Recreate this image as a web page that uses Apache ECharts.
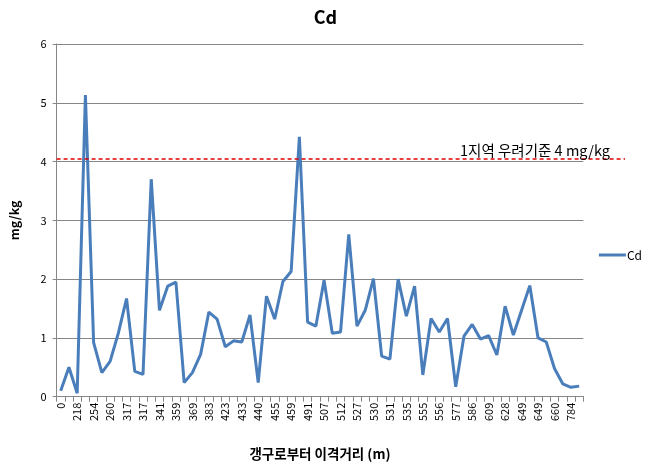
<!DOCTYPE html>
<html><head><meta charset="utf-8">
<script src="https://cdn.jsdelivr.net/npm/echarts@6/dist/echarts.min.js"></script>
<style>html,body{margin:0;padding:0;background:#fff}#c{width:651px;height:468px}</style>
</head><body><div id="c"></div>
<script>
const categories = ['0','200','218','250','254','258','260','300','317','317','317','330','341','350','359','365','369','380','383','400','423','430','433','435','440','450','455','457','459','489','491','500','507','510','512','520','527','529','530','531','531','533','535','550','555','556','556','570','577','580','586','600','609','620','628','640','649','649','649','655','660','700','784','800'];
const cdValues = [0.10,0.50,0.06,5.13,0.92,0.41,0.60,1.08,1.67,0.43,0.38,3.70,1.47,1.88,1.95,0.24,0.41,0.72,1.44,1.32,0.85,0.95,0.93,1.39,0.24,1.71,1.32,1.96,2.13,4.42,1.27,1.20,1.98,1.08,1.10,2.76,1.20,1.47,2.01,0.69,0.64,2.00,1.37,1.88,0.37,1.33,1.10,1.33,0.17,1.03,1.23,0.98,1.04,0.71,1.54,1.05,1.47,1.89,1.00,0.93,0.48,0.22,0.16,0.18];
const yTicks = [0,1,2,3,4,5,6];
const limitValue = 4.04;
const limitLabel = '1지역 우려기준 4 mg/kg';

const FONT = '"Noto Sans CJK KR", "Noto Sans", sans-serif';
const chart = echarts.init(document.getElementById('c'), null, {renderer:'canvas'});
const option = {
  animation:false,
  backgroundColor:'#fff',
  title:{text:'Cd', left:'center', top:3, textStyle:{fontFamily:FONT, fontSize:18, fontWeight:'bold', color:'#000'}},
  grid:{left:56.6, right:67.7, top:44, bottom:71.3, containLabel:false},
  legend:{right:4, top:244, orient:'vertical', itemWidth:27, itemHeight:3, itemGap:4, icon:'rect',
    textStyle:{fontFamily:FONT, fontSize:12, color:'#000', padding:[0,0,0,-4]}, data:['Cd']},
  xAxis:{type:'category', data:categories, boundaryGap:true,
    name:'갱구로부터 이격거리 (m)', nameLocation:'middle', nameGap:50,
    nameTextStyle:{fontFamily:FONT, fontSize:13.5, fontWeight:'bold', color:'#000'},
    axisLine:{lineStyle:{color:'#868686', width:1}},
    axisTick:{show:true, interval:0, length:5, lineStyle:{color:'#868686'}},
    axisLabel:{interval:1, rotate:90, fontFamily:FONT, fontSize:11, color:'#000', margin:6},
    splitLine:{show:false}},
  yAxis:{type:'value', min:0, max:6, interval:1,
    name:'mg/kg', nameLocation:'middle', nameGap:36, nameRotate:90,
    nameTextStyle:{fontFamily:FONT, fontSize:12.5, fontWeight:'bold', color:'#000'},
    axisLine:{show:true, lineStyle:{color:'#868686'}},
    axisTick:{show:true, length:4, lineStyle:{color:'#868686'}},
    axisLabel:{fontFamily:FONT, fontSize:11, color:'#000', margin:10,
      formatter:v=> yTicks.includes(v)? String(v):''},
    splitLine:{show:true, lineStyle:{color:'#868686', width:1}}},
  series:[{name:'Cd', type:'line', data:cdValues, symbol:'none',
    lineStyle:{color:'#4a7ebb', width:3}, itemStyle:{color:'#4a7ebb'}}]
};
chart.setOption(option);
const p0 = chart.convertToPixel({xAxisIndex:0, yAxisIndex:0}, [0, limitValue]);
const yPix = Math.round(p0[1]);
chart.setOption({graphic:[
  {type:'line', shape:{x1:56.6, y1:yPix, x2:625, y2:yPix}, style:{stroke:'#e00000', lineWidth:1.3, lineDash:[4,3]}, z:100},
  {type:'text', x:610, y:yPix-1.5, style:{text:limitLabel, fontFamily:FONT, fontSize:14.5, fill:'#000', textAlign:'right', textVerticalAlign:'bottom'}, z:100}
]});
</script></body></html>
